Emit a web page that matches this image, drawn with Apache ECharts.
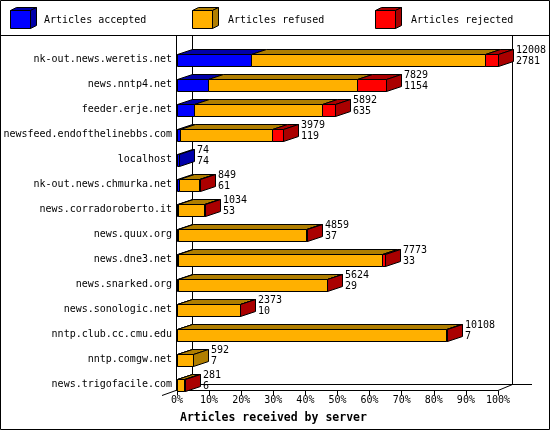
<!DOCTYPE html>
<html>
<head>
<meta charset="utf-8">
<script src="https://cdn.jsdelivr.net/npm/echarts@6/dist/echarts.min.js"></script>
<style>
html,body{margin:0;padding:0;background:#fff;}
#chart{width:550px;height:430px;}
</style>
</head>
<body>
<div id="chart"></div>
<script>
// ---- data ----
const categories = ['nk-out.news.weretis.net','news.nntp4.net','feeder.erje.net','newsfeed.endofthelinebbs.com','localhost','nk-out.news.chmurka.net','news.corradoroberto.it','news.quux.org','news.dne3.net','news.snarked.org','news.sonologic.net','nntp.club.cc.cmu.edu','nntp.comgw.net','news.trigofacile.com'];
const totals   = [12008, 7829, 5892, 3979, 74, 849, 1034, 4859, 7773, 5624, 2373, 10108, 592, 281];
const accepted = [2781, 1154, 635, 119, 74, 61, 53, 37, 33, 29, 10, 7, 7, 6];
const refused  = [8741, 5574, 4777, 3423, 0, 763, 951, 4802, 7650, 5575, 2348, 10041, 585, 265];
const rejected = [486, 1101, 480, 437, 0, 25, 30, 20, 90, 20, 15, 60, 0, 10];
const xTicks = [0,10,20,30,40,50,60,70,80,90,100];
const seriesNames = ['Articles accepted','Articles refused','Articles rejected'];
const frontColors = ['#0000ff','#ffb000','#ff0000'];
const darkColors  = ['#0000aa','#b07e00','#aa0000'];
const axisTitle = 'Articles received by server';

const FONT = '"DejaVu Sans Mono","Liberation Mono",monospace';
const maxTotal = Math.max(...totals);
const pct = v => v / maxTotal * 100;
const DX = 15, DY = 5, H = 12;
const parts = [accepted, refused, rejected];

function segData(k){
  return categories.map((c,i)=>{
    let start = 0; for(let j=0;j<k;j++) start += parts[j][i];
    const end = start + parts[k][i];
    let last = -1; for(let j=0;j<3;j++) if(parts[j][i]>0) last=j;
    return [pct(start), pct(end), i, last===k ? 1 : 0];
  });
}
const sn = v => Math.round(v) + 0.5;

function makeRender(k){
  return function(params, api){
    const s = api.value(0), e = api.value(1), cat = api.value(2), isLast = api.value(3);
    if (e <= s) return null;
    const p0 = api.coord([s, cat]), p1 = api.coord([e, cat]);
    const x0 = sn(p0[0]), x1 = sn(p1[0]);
    const yc = p0[1];
    const yt = sn(yc - H/2), yb = sn(yc + H/2);
    const children = [
      {type:'polygon', shape:{points:[[x0,yt],[x1,yt],[x1+DX,yt-DY],[x0+DX,yt-DY]]},
       style:{fill:darkColors[k], stroke:'#000', lineWidth:1}},
      {type:'rect', shape:{x:x0, y:yt, width:x1-x0, height:yb-yt},
       style:{fill:frontColors[k], stroke:'#000', lineWidth:1}}
    ];
    if (isLast){
      children.push({type:'polygon', shape:{points:[[x1,yt],[x1+DX,yt-DY],[x1+DX,yb-DY],[x1,yb]]},
        style:{fill:darkColors[k], stroke:'#000', lineWidth:1}});
    }
    return {type:'group', children};
  };
}

const labelData = categories.map((c,i)=>[pct(totals[i]), i, totals[i], accepted[i]]);

function cube(x, y, k){
  const w = 20, h = 18, dx = 6, dy = 3;
  return [
    {type:'polygon', shape:{points:[[x,y],[x+w,y],[x+w+dx,y-dy],[x+dx,y-dy]]}, style:{fill:darkColors[k], stroke:'#000', lineWidth:1}},
    {type:'polygon', shape:{points:[[x+w,y],[x+w+dx,y-dy],[x+w+dx,y+h-dy],[x+w,y+h]]}, style:{fill:darkColors[k], stroke:'#000', lineWidth:1}},
    {type:'rect', shape:{x:x, y:y, width:w, height:h}, style:{fill:frontColors[k], stroke:'#000', lineWidth:1}}
  ];
}
const legendX = [10.5, 192.5, 375.5];
const legendTextX = [44, 228, 411];
let legendEls = [];
seriesNames.forEach((n,k)=>{
  legendEls = legendEls.concat(cube(legendX[k], 10.5, k));
  legendEls.push({type:'text', style:{text:n, x:legendTextX[k], y:20, font:'10px '+FONT, fill:'#000', verticalAlign:'middle'}});
});

const line = (x1,y1,x2,y2) => ({type:'line', shape:{x1,y1,x2,y2}, style:{stroke:'#000', lineWidth:1}, z:0});

const chart = echarts.init(document.getElementById('chart'), null, {renderer:'canvas'});
chart.setOption({
  backgroundColor:'#fff',
  animation:false,
  grid:[
    {left:177, top:47, width:321, height:350, containLabel:false},
    {left:177, top:389.5, width:321, height:1, containLabel:false}
  ],
  xAxis:[
    {type:'value', gridIndex:0, min:0, max:100, interval:10, show:false},
    {type:'value', gridIndex:1, min:0, max:100, interval:10,
      axisLine:{show:false}, splitLine:{show:false},
      axisTick:{show:true, length:5, lineStyle:{color:'#000', width:1}},
      axisLabel:{margin:5, color:'#000', fontFamily:FONT, fontSize:10, formatter:'{value}%'}
    }
  ],
  yAxis:[
    {type:'category', gridIndex:0, data:categories, inverse:true,
      axisLine:{show:false}, axisTick:{show:false}, splitLine:{show:false},
      axisLabel:{margin:5, color:'#000', fontFamily:FONT, fontSize:10}
    },
    {type:'value', gridIndex:1, show:false}
  ],
  series: seriesNames.map((n,k)=>({
    name:n, type:'custom', renderItem:makeRender(k), data:segData(k), clip:false, z:3,
    xAxisIndex:0, yAxisIndex:0, encode:{x:[0,1], y:2}
  })).concat([{
    name:'labels', type:'custom', clip:false, z:4, data:labelData, xAxisIndex:0, yAxisIndex:0, encode:{x:0, y:1},
    renderItem:function(params, api){
      const p = api.coord([api.value(0), api.value(1)]);
      return {type:'text', style:{text: api.value(2) + '\n' + api.value(3), x: Math.round(p[0]) + DX + 3, y: p[1] - 4,
        font:'10px '+FONT, fill:'#000', verticalAlign:'middle', lineHeight:11}};
    }
  }]),
  graphic:[
    {type:'group', z:0, children:[
      {type:'rect', shape:{x:0.5, y:0.5, width:549, height:429}, style:{fill:'none', stroke:'#000', lineWidth:1}},
      line(0, 35.5, 550, 35.5),
      line(176.5, 35, 176.5, 390.5),
      line(192.5, 35, 192.5, 384.5),
      line(512.5, 35, 512.5, 384.5),
      line(192, 384.5, 532, 384.5),
      line(176.5, 390.5, 498, 390.5),
      line(162, 395.5, 192.5, 384.5),
      line(498, 390.5, 512.5, 384.5)
    ].concat(legendEls)},
    {type:'text', z:5, style:{text:axisTitle, x:180, y:418, font:'bold 11.5px '+FONT, fill:'#000', verticalAlign:'middle'}}
  ]
});
</script>
</body>
</html>
